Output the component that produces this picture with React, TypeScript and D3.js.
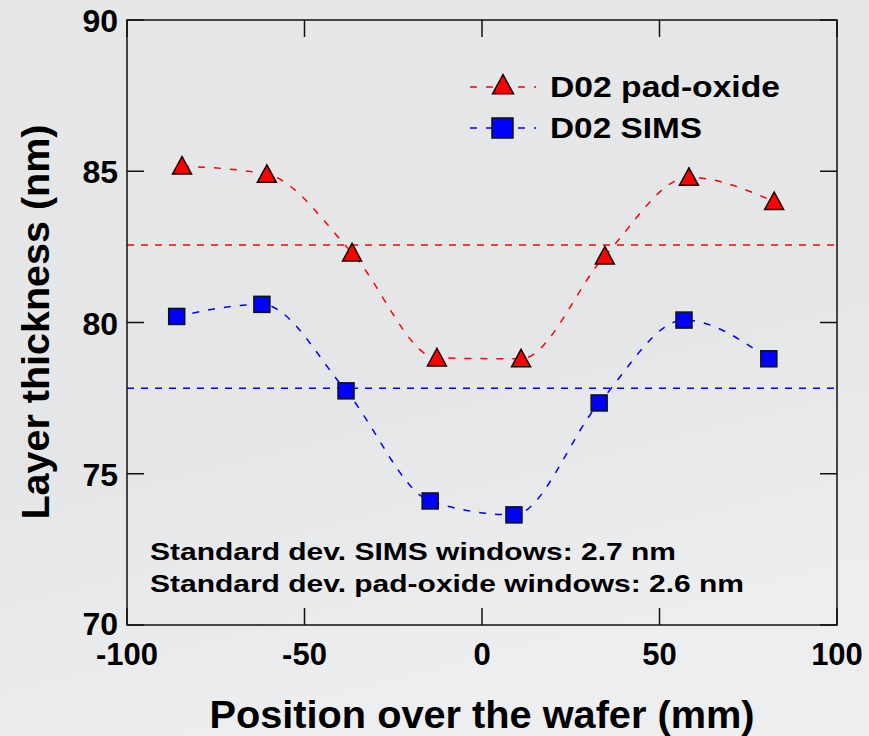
import React from "react";
import * as d3 from "d3";

const padX = [-84.5, -60.6, -36.6, -12.7, 11, 34.6, 58.3, 82.3];
const padY = [85.17, 84.9, 82.3, 78.83, 78.8, 82.2, 84.8, 84.0];
const simsX = [-86, -62, -38.3, -14.6, 9, 33, 56.9, 80.8];
const simsY = [80.2, 80.6, 77.74, 74.1, 73.64, 77.34, 80.08, 78.8];
const padMean = 82.56;
const simsMean = 77.83;
const xTicks = [-100, -50, 0, 50, 100];
const yTicks = [70, 75, 80, 85, 90];
const legendLabels = ["D02 pad-oxide", "D02 SIMS"];
const notes = ["Standard dev. SIMS windows: 2.7 nm", "Standard dev. pad-oxide windows: 2.6 nm"];

export default function App() {
  const W = 869, H = 736;
  const L = 127, R = 837, T = 20, B = 625;
  const x = d3.scaleLinear().domain([-100, 100]).range([L, R]);
  const y = d3.scaleLinear().domain([70, 90]).range([B, T]);
  const line = d3.line<[number, number]>().x(d => x(d[0])).y(d => y(d[1])).curve(d3.curveMonotoneX);
  const pad: [number, number][] = padX.map((v, i) => [v, padY[i]]);
  const sims: [number, number][] = simsX.map((v, i) => [v, simsY[i]]);
  const tri = (cx: number, cy: number, s = 1) => `M${cx},${cy - 9.5 * s} L${cx + 9.5 * s},${cy + 8 * s} L${cx - 9.5 * s},${cy + 8 * s} Z`;
  const font = "'Liberation Sans', Arial, Helvetica, sans-serif";
  const tk = 17;
  return (
    <svg width={W} height={H} style={{ position: "absolute", left: 0, top: 0 }}>
      <defs>
        <linearGradient id="bg" x1="0" y1="0" x2="0.3" y2="1">
          <stop offset="0" stopColor="#e6e7e9" />
          <stop offset="0.6" stopColor="#e4e6e8" />
          <stop offset="1" stopColor="#eceef0" />
        </linearGradient>
      </defs>
      <rect x={0} y={0} width={W} height={H} fill="url(#bg)" />
      {/* mean lines */}
      <line x1={L} x2={R} y1={y(padMean)} y2={y(padMean)} stroke="#ff0000" strokeWidth={1.5} strokeDasharray="7,7" />
      <line x1={L} x2={R} y1={y(simsMean)} y2={y(simsMean)} stroke="#0000ff" strokeWidth={1.5} strokeDasharray="7,7" />
      {/* curves */}
      <path d={line(pad) || ""} fill="none" stroke="#ff0000" strokeWidth={1.5} strokeDasharray="7,9" />
      <path d={line(sims) || ""} fill="none" stroke="#0000ff" strokeWidth={1.5} strokeDasharray="7,9" />
      {/* frame */}
      <rect x={L} y={T} width={R - L} height={B - T} fill="none" stroke="#111" strokeWidth={1.5} />
      {xTicks.map(t => (
        <g key={"x" + t}>
          <line x1={x(t)} x2={x(t)} y1={B} y2={B - tk} stroke="#111" strokeWidth={1.5} />
          <line x1={x(t)} x2={x(t)} y1={T} y2={T + tk} stroke="#111" strokeWidth={1.5} />
          <text x={x(t)} y={B + 40} textAnchor="middle" fontFamily={font} fontWeight="bold" fontSize={31} fill="#000">{t}</text>
        </g>
      ))}
      {yTicks.map(t => (
        <g key={"y" + t}>
          <line x1={L} x2={L + tk} y1={y(t)} y2={y(t)} stroke="#111" strokeWidth={1.5} />
          <line x1={R} x2={R - tk} y1={y(t)} y2={y(t)} stroke="#111" strokeWidth={1.5} />
          <text x={118} y={y(t) + (t === 70 ? 10 : 12)} textAnchor="end" fontFamily={font} fontWeight="bold" fontSize={32} fill="#000">{t}</text>
        </g>
      ))}
      {/* markers */}
      {pad.map((d, i) => (
        <path key={"p" + i} d={tri(x(d[0]), y(d[1]))} fill="#ff0000" stroke="#1a0000" strokeWidth={1.5} />
      ))}
      {sims.map((d, i) => (
        <rect key={"s" + i} x={x(d[0]) - 8} y={y(d[1]) - 8} width={16} height={16} fill="#0000ff" stroke="#111" strokeWidth={1.5} />
      ))}
      {/* legend */}
      <line x1={470} x2={536} y1={87} y2={87} stroke="#ff0000" strokeWidth={1.5} strokeDasharray="7,9" />
      <path d={tri(503, 85, 1.1)} fill="#ff0000" stroke="#1a0000" strokeWidth={1.5} />
      <text x={550} y={97} fontFamily={font} fontWeight="bold" fontSize={30} fill="#000" textLength={230} lengthAdjust="spacingAndGlyphs">{legendLabels[0]}</text>
      <line x1={470} x2={536} y1={128} y2={128} stroke="#0000ff" strokeWidth={1.5} strokeDasharray="7,9" />
      <rect x={492} y={118} width={21} height={20} fill="#0000ff" stroke="#111" strokeWidth={1.5} />
      <text x={550} y={138} fontFamily={font} fontWeight="bold" fontSize={30} fill="#000" textLength={152} lengthAdjust="spacingAndGlyphs">{legendLabels[1]}</text>
      {/* notes */}
      <text x={150} y={560} fontFamily={font} fontWeight="bold" fontSize={24} fill="#000" textLength={526} lengthAdjust="spacingAndGlyphs">{notes[0]}</text>
      <text x={150} y={592} fontFamily={font} fontWeight="bold" fontSize={24} fill="#000" textLength={594} lengthAdjust="spacingAndGlyphs">{notes[1]}</text>
      {/* axis titles */}
      <text x={482} y={728} textAnchor="middle" fontFamily={font} fontWeight="bold" fontSize={39} fill="#000" textLength={545} lengthAdjust="spacingAndGlyphs">Position over the wafer (mm)</text>
      <text transform={`translate(49,322) rotate(-90)`} textAnchor="middle" fontFamily={font} fontWeight="bold" fontSize={38} fill="#000" textLength={395} lengthAdjust="spacingAndGlyphs">Layer thickness (nm)</text>
    </svg>
  );
}
